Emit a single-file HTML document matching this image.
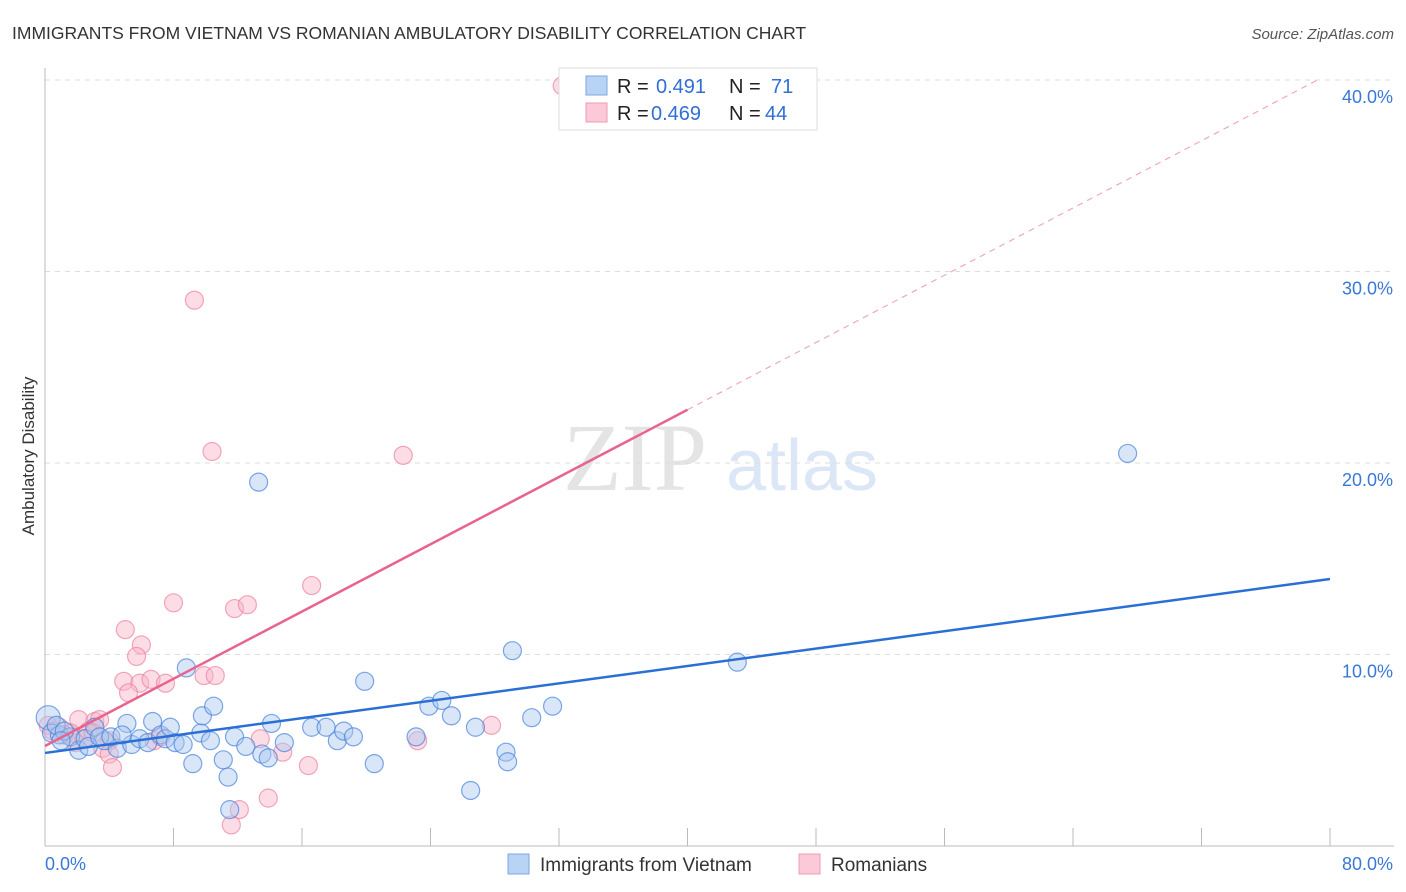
<!DOCTYPE html>
<html><head><meta charset="utf-8">
<style>
body{margin:0;background:#fff;font-family:"Liberation Sans",sans-serif;}
svg{display:block}
</style></head>
<body>
<svg id="chart" width="1406" height="892">
<text x="12" y="39" font-size="17.5" fill="#333">IMMIGRANTS FROM VIETNAM VS ROMANIAN AMBULATORY DISABILITY CORRELATION CHART</text>
<text x="1394" y="39" font-size="15" fill="#555" font-style="italic" text-anchor="end">Source: ZipAtlas.com</text>
<text x="34" y="456" font-size="17" fill="#333" text-anchor="middle" transform="rotate(-90 34 456)">Ambulatory Disability</text>
<g>
<text x="635" y="490" font-size="96" fill="#e4e4e4" font-family="Liberation Serif,serif" text-anchor="middle">ZIP</text>
<text x="802" y="490" font-size="72" fill="#dbe6f6" text-anchor="middle">atlas</text>
</g>
<g id="grid"></g>
<g id="axes"></g>
<g id="pts"></g>
<g id="lines"></g>
<g>
<rect x="559" y="68" width="258" height="62" fill="#fff" stroke="#ddd"/>
<rect x="586" y="76" width="21" height="19" fill="#b9d3f5" stroke="#7aa7e6"/>
<rect x="586" y="103" width="21" height="19" fill="#fbc9d7" stroke="#f099b3"/>
<text x="617" y="93" font-size="20" fill="#222">R = </text><text x="656" y="93" font-size="20" fill="#2f6fd6">0.491</text>
<text x="729" y="93" font-size="20" fill="#222">N = </text><text x="771" y="93" font-size="20" fill="#2f6fd6">71</text>
<text x="617" y="120" font-size="20" fill="#222">R = </text><text x="651" y="120" font-size="20" fill="#2f6fd6">0.469</text>
<text x="729" y="120" font-size="20" fill="#222">N = </text><text x="765" y="120" font-size="20" fill="#2f6fd6">44</text>
</g>
<g>
<rect x="508" y="854" width="21" height="20" fill="#b9d3f5" stroke="#7aa7e6"/>
<text x="540" y="871" font-size="19" fill="#333">Immigrants from Vietnam</text>
<rect x="799" y="854" width="21" height="20" fill="#fbc9d7" stroke="#f099b3"/>
<text x="831" y="871" font-size="19" fill="#333">Romanians</text>
</g>
</svg>
<script>
const yTicks=[10,20,30,40];
const yTickLabels=["10.0%","20.0%","30.0%","40.0%"];
const xTicks=[0,8,16,24,32,40,48,56,64,72,80];
const xEndLabels=["0.0%","80.0%"];
const blueX=[0.2,0.4,0.9,1.6,2.1,2.5,3.1,3.7,4.5,5.1,5.4,5.9,6.4,6.7,7.2,7.5,7.8,8.1,8.6,8.8,9.2,9.7,9.8,10.3,10.5,11.1,11.4,11.5,11.8,12.5,13.3,13.5,13.9,14.1,14.9,16.6,17.5,18.2,18.6,19.2,19.9,20.5,23.1,23.9,24.7,25.3,26.5,26.8,28.7,28.8,29.1,30.3,31.6,43.1,67.4,0.7,1.2,2.7,3.4,4.1,4.8,1.0];
const blueY=[6.7,5.9,5.8,5.7,5.0,5.6,6.2,5.5,5.1,6.4,5.3,5.6,5.4,6.5,5.8,5.6,6.2,5.4,5.3,9.3,4.3,5.9,6.8,5.5,7.3,4.5,3.6,1.9,5.7,5.2,19.0,4.8,4.6,6.4,5.4,6.2,6.2,5.5,6.0,5.7,8.6,4.3,5.7,7.3,7.6,6.8,2.9,6.2,4.9,4.4,10.2,6.7,7.3,9.6,20.5,6.3,6.0,5.2,5.7,5.7,5.8,5.5];
const pinkX=[32.2,9.3,10.4,22.3,16.6,8.0,11.8,12.6,5.0,6.0,5.7,4.9,5.9,6.6,7.5,5.2,9.9,10.6,2.1,3.1,3.4,2.7,0.9,0.2,4.0,3.6,4.0,4.2,6.8,13.4,14.8,16.4,13.9,12.1,11.6,23.2,27.8,1.6,2.4,0.5,1.2,3.0,7.2,1.9];
const pinkY=[39.7,28.5,20.6,20.4,13.6,12.7,12.4,12.6,11.3,10.5,9.9,8.6,8.5,8.7,8.5,8.0,8.9,8.9,6.6,6.5,6.6,6.0,6.2,6.3,5.5,5.1,4.8,4.1,5.5,5.6,4.9,4.2,2.5,1.9,1.1,5.5,6.3,5.9,5.6,6.0,5.8,5.9,5.7,5.4];
const blueTrend=[4.86,13.94];
const pinkTrend=[5.22,0.439];
const NS="http://www.w3.org/2000/svg";
const sx=v=>45+v/80*1285, sy=v=>846-v*19.15;
function mk(tag,attrs,parent){const e=document.createElementNS(NS,tag);for(const k in attrs)e.setAttribute(k,attrs[k]);document.getElementById(parent).appendChild(e);return e;}
yTicks.forEach((t,i)=>{
 const l=mk('line',{x1:45,x2:1394,y1:sy(t),y2:sy(t),stroke:'#ddd','stroke-dasharray':'5,5'},'grid');
 
 
 const tx=mk('text',{x:1393,y:sy(t)+23,'font-size':18,fill:'#3a78d8','text-anchor':'end'},'grid');
 tx.textContent=yTickLabels[i];
 
 
});
const ax=mk('line',{x1:45,x2:1394,y1:846,y2:846,stroke:'#bbb'},'axes');


const ay=mk('line',{x1:45,x2:45,y1:68,y2:846,stroke:'#bbb'},'axes');


xTicks.forEach(t=>{
 const l=mk('line',{x1:sx(t),x2:sx(t),y1:828,y2:846,stroke:'#bbb'},'axes');
 
 
});
const xl0=mk('text',{x:45,y:870,'font-size':18,fill:'#3a78d8'},'axes');xl0.textContent=xEndLabels[0];


const xl1=mk('text',{x:1393,y:870,'font-size':18,fill:'#3a78d8','text-anchor':'end'},'axes');xl1.textContent=xEndLabels[1];


pinkX.forEach((x,i)=>{
 const c=mk('circle',{cx:sx(x),cy:sy(pinkY[i]),r:9,fill:'rgba(248,180,200,0.45)',stroke:'rgba(236,130,160,0.7)','stroke-width':1.2},'pts');
 
 
});
blueX.forEach((x,i)=>{
 const c=mk('circle',{cx:sx(x),cy:sy(blueY[i]),r:i==0?12:9,fill:'rgba(170,200,240,0.45)',stroke:'rgba(70,130,220,0.7)','stroke-width':1.2},'pts');
 
 
});
const bl=mk('line',{x1:sx(0),y1:sy(blueTrend[0]),x2:sx(80),y2:sy(blueTrend[1]),stroke:'#2a6fd6','stroke-width':2.5},'lines');


const pl=mk('line',{x1:sx(0),y1:sy(pinkTrend[0]),x2:sx(40),y2:sy(pinkTrend[0]+pinkTrend[1]*40),stroke:'#e8638e','stroke-width':2.5},'lines');


const pd=mk('line',{x1:sx(40),y1:sy(pinkTrend[0]+pinkTrend[1]*40),x2:sx(79.4),y2:sy(pinkTrend[0]+pinkTrend[1]*79.4),stroke:'#f0a8bd','stroke-width':1.2,'stroke-dasharray':'6,5'},'lines');


</script>
</body></html>
